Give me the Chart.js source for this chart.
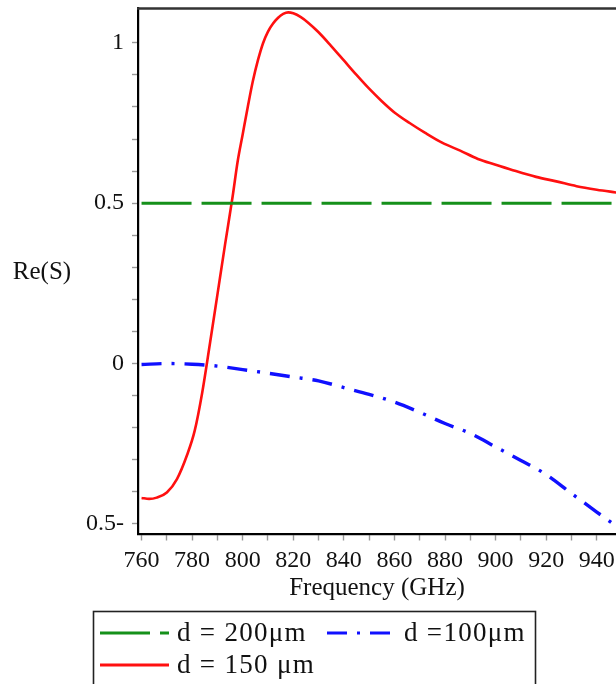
<!DOCTYPE html>
<html>
<head>
<meta charset="utf-8">
<script src="https://cdn.jsdelivr.net/npm/chart.js@4/dist/chart.umd.min.js"></script>
<style>
  html, body { margin: 0; padding: 0; background: #fff; overflow: hidden; }
  canvas { display: block; }
</style>
</head>
<body>
<canvas id="c" width="616" height="684"></canvas>
<script>
const SERIF = '"Liberation Serif", "Times New Roman", serif';

// d = 150 µm : resonance curve
const freq150 = [760, 763, 766, 770, 774, 778, 781, 784, 787, 790, 793, 796, 798, 800, 802, 804, 806, 808, 810, 812, 814, 816, 818, 820, 823, 826, 830, 835, 840, 845, 850, 855, 860, 866, 872, 879, 886, 893, 900, 908, 916, 924, 932, 940, 948];
const re150 = [-0.419, -0.422, -0.418, -0.402, -0.36, -0.285, -0.21, -0.09, 0.06, 0.215, 0.37, 0.52, 0.63, 0.715, 0.80, 0.88, 0.945, 0.998, 1.035, 1.06, 1.078, 1.09, 1.095, 1.092, 1.08, 1.062, 1.033, 0.99, 0.945, 0.90, 0.857, 0.818, 0.783, 0.75, 0.72, 0.688, 0.664, 0.638, 0.62, 0.60, 0.582, 0.568, 0.553, 0.542, 0.533];

// d = 100 µm
const freq100 = [760, 770, 780, 790, 800, 810, 820, 830, 840, 850, 860, 870, 880, 890, 900, 910, 920, 930, 940, 948];
const re100 = [-0.003, 0, -0.002, -0.008, -0.019, -0.03, -0.042, -0.054, -0.075, -0.096, -0.12, -0.152, -0.187, -0.218, -0.26, -0.302, -0.346, -0.405, -0.463, -0.508];

// d = 200 µm
const freq200 = [760, 950];
const re200 = [0.5, 0.5];

// axis ticks
const xMajorTicks = [760, 780, 800, 820, 840, 860, 880, 900, 920, 940];
const xMinorTicks = [770, 790, 810, 830, 850, 870, 890, 910, 930];
const yMajorTicks = [-0.5, 0, 0.5, 1];
const yMajorLabels = ['0.5-', '0', '0.5', '1'];
const yMinorTicks = [-0.4, -0.3, -0.2, -0.1, 0.1, 0.2, 0.3, 0.4, 0.6, 0.7, 0.8, 0.9];

const toPoints = (xs, ys) => xs.map((x, i) => ({ x: x, y: ys[i] }));

const datasets = [
  { label: 'd = 200μm', data: toPoints(freq200, re200), borderColor: '#15901a', borderWidth: 3, borderDash: [50, 10] },
  { label: 'd =100μm', data: toPoints(freq100, re100), borderColor: '#1010ff', borderWidth: 3.4, borderDash: [20, 10, 3, 10], cubicInterpolationMode: 'monotone' },
  { label: 'd = 150 μm', data: toPoints(freq150, re150), borderColor: '#ff1010', borderWidth: 2.6, cubicInterpolationMode: 'monotone' }
];
datasets.forEach(d => { d.pointRadius = 0; d.fill = false; d.borderCapStyle = 'butt'; });

// keep the plot frame fixed: no extra room reserved for edge tick labels
function fixBox(size) {
  return scale => {
    if (scale.isHorizontal()) scale.height = size; else scale.width = size;
    scale.paddingTop = 0; scale.paddingBottom = 0;
    scale.paddingLeft = 0; scale.paddingRight = 0;
  };
}

// top frame line, horizontal y title and the boxed legend
const decorations = {
  id: 'decorations',
  afterDraw(chart) {
    const { ctx, chartArea } = chart;
    ctx.save();
    ctx.strokeStyle = '#333';
    ctx.lineWidth = 2.4;
    ctx.beginPath();
    ctx.moveTo(chartArea.left - 1, chartArea.top);
    ctx.lineTo(chartArea.right, chartArea.top);
    ctx.stroke();

    ctx.fillStyle = '#111';
    ctx.font = '25px ' + SERIF;
    ctx.textAlign = 'center';
    ctx.textBaseline = 'middle';
    ctx.fillText('Re(S)', 42, 272);

    // legend box
    ctx.strokeStyle = '#222';
    ctx.lineWidth = 1.6;
    ctx.strokeRect(93.5, 611.5, 442, 80);

    const ds = chart.data.datasets;
    const rows = [
      { d: ds[0], x: 100, y: 633 },
      { d: ds[1], x: 327, y: 633 },
      { d: ds[2], x: 100, y: 665 }
    ];
    ctx.font = '27px ' + SERIF;
    ctx.textAlign = 'left';
    ctx.letterSpacing = '1.3px';
    rows.forEach(r => {
      ctx.save();
      ctx.strokeStyle = r.d.borderColor;
      ctx.lineWidth = 3;
      ctx.setLineDash(r.d.borderDash || []);
      ctx.beginPath();
      ctx.moveTo(r.x, r.y);
      ctx.lineTo(r.x + 69, r.y);
      ctx.stroke();
      ctx.restore();
      ctx.fillStyle = '#111';
      ctx.fillText(r.d.label, r.x + 77, r.y + 1);
    });
    ctx.restore();
  }
};

new Chart(document.getElementById('c'), {
  type: 'line',
  data: { datasets: datasets },
  plugins: [decorations],
  options: {
    responsive: false,
    animation: false,
    events: [],
    layout: { padding: { top: 8.5, right: 0, left: 0, bottom: 0 } },
    plugins: { legend: { display: false }, tooltip: { enabled: false } },
    scales: {
      x: {
        type: 'linear',
        position: 'bottom',
        min: 758.6,
        max: 947.6,
        afterFit: fixBox(149.5),
        afterBuildTicks(scale) {
          scale.ticks = xMajorTicks.concat(xMinorTicks).sort((a, b) => a - b).map(v => ({ value: v }));
        },
        ticks: {
          autoSkip: false,
          maxRotation: 0,
          padding: 6,
          color: '#111',
          font: { family: SERIF, size: 24 },
          callback: v => (xMajorTicks.includes(v) ? String(v) : '')
        },
        grid: { drawOnChartArea: false, drawTicks: true, tickLength: 6, tickColor: '#999', tickWidth: 1.4 },
        border: { display: true, color: '#000', width: 2.2 },
        title: {
          display: true,
          text: 'Frequency (GHz)',
          color: '#111',
          font: { family: SERIF, size: 25 },
          padding: { top: 0, bottom: 81 }
        }
      },
      y: {
        type: 'linear',
        min: -0.533,
        max: 1.107,
        afterFit: fixBox(138),
        afterBuildTicks(scale) {
          scale.ticks = yMajorTicks.concat(yMinorTicks).sort((a, b) => a - b).map(v => ({ value: v }));
        },
        ticks: {
          autoSkip: false,
          padding: 8,
          color: '#111',
          font: { family: SERIF, size: 24 },
          callback: v => {
            const i = yMajorTicks.indexOf(v);
            return i >= 0 ? yMajorLabels[i] : '';
          }
        },
        grid: { drawOnChartArea: false, drawTicks: true, tickLength: 6, tickColor: '#999', tickWidth: 1.4 },
        border: { display: true, color: '#000', width: 2.2 }
      }
    }
  }
});
</script>
</body>
</html>
